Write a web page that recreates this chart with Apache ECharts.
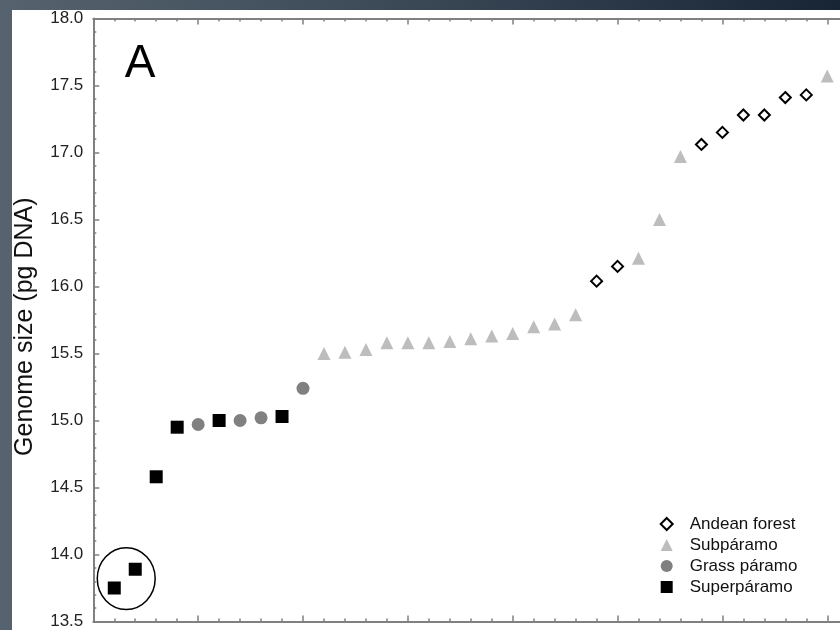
<!DOCTYPE html>
<html>
<head>
<meta charset="utf-8">
<script src="https://cdn.jsdelivr.net/npm/echarts@6/dist/echarts.min.js"></script>
<style>
html, body { margin: 0; padding: 0; }
body { width: 840px; height: 630px; overflow: hidden; position: relative;
  background: linear-gradient(to right, #56636e 0%, #3d4b59 45%, #172535 100%); }
#chart { position: absolute; left: 12px; top: 10px; width: 880px; height: 620px; background: #ffffff; }
</style>
</head>
<body>
<div id="chart"></div>
<script>
// ---- data (rank along x, genome size in pg DNA) ----
const superRank = [1, 2, 3, 4, 6, 9];
const superSize = [13.75, 13.89, 14.58, 14.95, 15.00, 15.03];

const grassRank = [5, 7, 8, 10];
const grassSize = [14.97, 15.00, 15.02, 15.24];

const subRank = [11, 12, 13, 14, 15, 16, 17, 18, 19, 20, 21, 22, 23, 26, 27, 28, 35];
const subSize = [15.50, 15.51, 15.53, 15.58, 15.58, 15.58, 15.59, 15.61, 15.63, 15.65, 15.70, 15.72, 15.79, 16.21, 16.50, 16.97, 17.57];

const forestRank = [24, 25, 29, 30, 31, 32, 33, 34];
const forestSize = [16.04, 16.15, 17.06, 17.15, 17.28, 17.28, 17.41, 17.43];

const seriesNames = ['Andean forest', 'Subpáramo', 'Grass páramo', 'Superpáramo'];
const yTicks = { min: 13.5, max: 18.0, interval: 0.5 };
const xRange = { min: 0, max: 37 };
const panelLabel = 'A';
const yTitle = 'Genome size (pg DNA)';
// circled group (data units): center and half extents
const circleCenter = [1.57, 13.82];
const circleHalf = [1.38, 0.23];

function pairs(xs, ys) { return xs.map((x, i) => [x, ys[i]]); }

const chart = echarts.init(document.getElementById('chart'), null, { renderer: 'canvas' });
const FONT = '"Liberation Sans", Arial, sans-serif';
const axisGrey = '#808080';

const xAxisBase = {
  type: 'value', min: xRange.min, max: xRange.max, interval: 5,
  axisLine: { show: true, onZero: false, lineStyle: { color: axisGrey, width: 2 } },
  axisTick: { show: true, inside: true, length: 6, lineStyle: { color: axisGrey, width: 1.5 } },
  minorTick: { show: true, splitNumber: 5, length: 3, lineStyle: { color: axisGrey, width: 1.5 } },
  axisLabel: { show: false },
  splitLine: { show: false }, minorSplitLine: { show: false }
};

const option = {
  animation: false,
  backgroundColor: '#ffffff',
  grid: { left: 81.3, top: 6.7, height: 607.6, width: 775.9, containLabel: false },
  xAxis: [
    Object.assign({}, xAxisBase, { position: 'bottom' }),
    Object.assign({}, xAxisBase, { position: 'top' })
  ],
  yAxis: {
    type: 'value', min: yTicks.min, max: yTicks.max, interval: yTicks.interval,
    axisLine: { show: true, onZero: false, lineStyle: { color: axisGrey, width: 2 } },
    axisTick: { show: true, inside: true, length: 6, lineStyle: { color: axisGrey, width: 1.5 } },
    minorTick: { show: true, splitNumber: 5, length: 3, lineStyle: { color: axisGrey, width: 1.5 } },
    axisLabel: { color: '#222', fontSize: 17, fontFamily: FONT, margin: 10,
      formatter: v => v.toFixed(1) },
    splitLine: { show: false }, minorSplitLine: { show: false }
  },
  legend: {
    orient: 'vertical', left: 647.7, top: 505.5,
    itemWidth: 12, itemHeight: 12, itemGap: 4,
    data: seriesNames,
    textStyle: { color: '#111', fontSize: 17, fontFamily: FONT, padding: [0, 0, 0, 12] },
    padding: 0
  },
  series: [
    { name: seriesNames[0], type: 'scatter', symbol: 'diamond', symbolSize: 11,
      itemStyle: { color: '#ffffff', borderColor: '#000000', borderWidth: 2, opacity: 1 },
      data: pairs(forestRank, forestSize), z: 5 },
    { name: seriesNames[1], type: 'scatter', symbol: 'triangle', symbolSize: 13,
      itemStyle: { color: '#bdbdbd', opacity: 1 },
      data: pairs(subRank, subSize) },
    { name: seriesNames[2], type: 'scatter', symbol: 'circle', symbolSize: 13,
      itemStyle: { color: '#808080', opacity: 1 },
      data: pairs(grassRank, grassSize) },
    { name: seriesNames[3], type: 'scatter', symbol: 'rect', symbolSize: 13,
      itemStyle: { color: '#000000', opacity: 1 },
      data: pairs(superRank, superSize) }
  ]
};
chart.setOption(option);

// annotations placed through the grid's scales
const tl = chart.convertToPixel({ gridIndex: 0 }, [circleCenter[0] - circleHalf[0], circleCenter[1] + circleHalf[1]]);
const br = chart.convertToPixel({ gridIndex: 0 }, [circleCenter[0] + circleHalf[0], circleCenter[1] - circleHalf[1]]);
const labelPos = chart.convertToPixel({ gridIndex: 0 }, [2.23, 17.66]);
const yMid = chart.convertToPixel({ gridIndex: 0 }, [0, 15.7]);

chart.setOption({
  graphic: [
    { type: 'ellipse',
      shape: { cx: (tl[0] + br[0]) / 2, cy: (tl[1] + br[1]) / 2, rx: (br[0] - tl[0]) / 2, ry: (br[1] - tl[1]) / 2 },
      style: { fill: 'none', stroke: '#000', lineWidth: 1.5 }, z: 10 },
    { type: 'text', x: labelPos[0], y: labelPos[1],
      style: { text: panelLabel, font: '46px ' + FONT, fill: '#000', align: 'center', verticalAlign: 'middle' }, z: 10 },
    { type: 'text', x: 13, y: yMid[1], rotation: Math.PI / 2,
      style: { text: yTitle, font: '25px ' + FONT, fill: '#111', align: 'center', verticalAlign: 'middle' }, z: 10 }
  ]
});
</script>
</body>
</html>
